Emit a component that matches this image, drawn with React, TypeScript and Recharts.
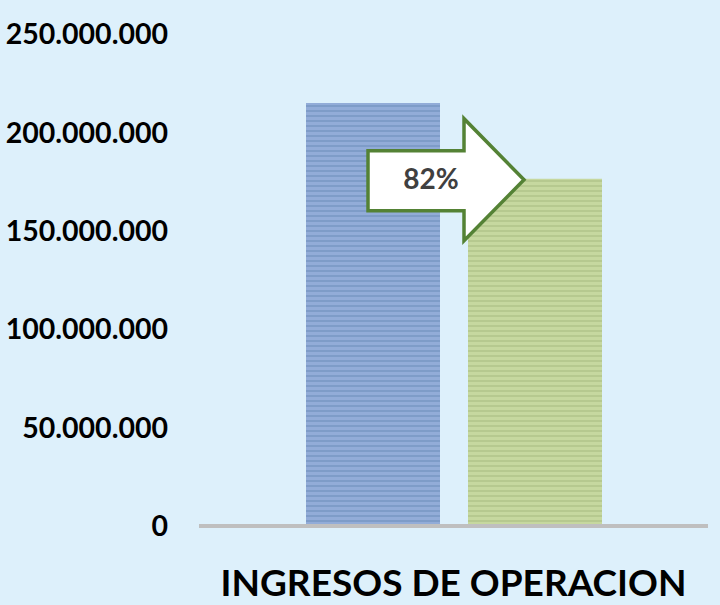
import { BarChart, Bar, XAxis, YAxis, LabelList } from "recharts";

const categories = ["INGRESOS DE OPERACION"];
const previous = [215000000];
const current = [176500000];
const yTicks = [0, 50000000, 100000000, 150000000, 200000000, 250000000];
const changeLabel = "82%";

const data = categories.map((name, i) => ({ name, previous: previous[i], current: current[i] }));

const FONT = "Lato, 'Open Sans', sans-serif";

function fmt(v: number) {
  return String(Math.round(v)).replace(/\B(?=(\d{3})+(?!\d))/g, ".");
}

function CategoryTick(props: any) {
  const { x, y, payload } = props;
  return (
    <text x={x} y={y + 62} textAnchor="middle" fontFamily={FONT} fontWeight={700} fontSize={37} fill="#000">
      {payload.value}
    </text>
  );
}

// arrow callout anchored to the top-left corner of the current bar
function ArrowLabel(props: any) {
  const { x, y } = props;
  const pts = [
    [x - 100, y - 28],
    [x - 4, y - 28],
    [x - 4, y - 60],
    [x + 56, y + 1],
    [x - 4, y + 62],
    [x - 4, y + 32],
    [x - 100, y + 32],
  ]
    .map((p) => p.join(","))
    .join(" ");
  return (
    <g>
      <polygon points={pts} fill="#ffffff" stroke="#548235" strokeWidth={3.5} strokeLinejoin="miter" />
      <text x={x - 37} y={y + 3} textAnchor="middle" dominantBaseline="middle" fontFamily={FONT} fontWeight={700} fontSize={28} fill="#404040">
        {changeLabel}
      </text>
    </g>
  );
}

export default function App() {
  return (
    <div style={{ position: "absolute", top: 0, left: 0, width: 720, height: 605, background: "#ddf0fb" }}>
      <BarChart width={720} height={605} data={data} margin={{ top: 34, right: 12, bottom: 0, left: 2 }} barGap={28}>
        <defs>
          <pattern id="stripeBlue" width="8" height="5" patternUnits="userSpaceOnUse">
            <rect width="8" height="5" fill="#92acd8" />
            <rect width="8" height="2" fill="#7e9cc8" />
          </pattern>
          <pattern id="stripeGreen" width="8" height="5" patternUnits="userSpaceOnUse">
            <rect width="8" height="5" fill="#c6d89f" />
            <rect width="8" height="2" fill="#b6c98f" />
          </pattern>
        </defs>
        <YAxis
          width={197}
          domain={[0, 250000000]}
          ticks={yTicks}
          tickFormatter={fmt}
          axisLine={false}
          tickLine={false}
          tickSize={0}
          tickMargin={31}
          tick={{ fontFamily: FONT, fontWeight: 700, fontSize: 28.5, fill: "#000" }}
        />
        <XAxis
          dataKey="name"
          height={79}
          axisLine={{ stroke: "#bfbfbf", strokeWidth: 4 }}
          tickLine={false}
          tick={<CategoryTick />}
        />
        <Bar dataKey="previous" fill="url(#stripeBlue)" barSize={134} isAnimationActive={false} />
        <Bar dataKey="current" fill="url(#stripeGreen)" barSize={134} isAnimationActive={false}>
          <LabelList dataKey="current" content={<ArrowLabel />} />
        </Bar>
      </BarChart>
    </div>
  );
}
